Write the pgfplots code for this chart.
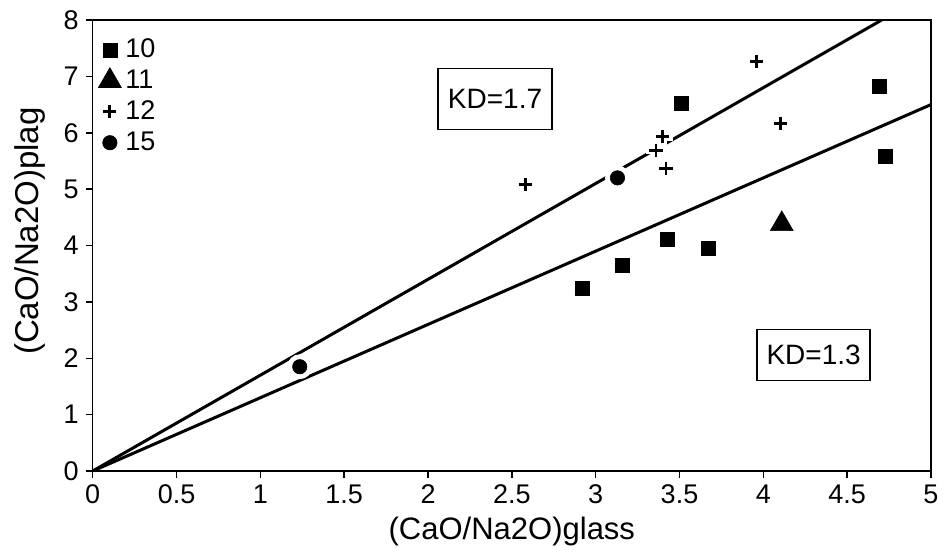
\documentclass[border=0pt]{standalone}
\usepackage{pgfplots}
\pgfplotsset{compat=1.18}
\usepackage{fontspec}
\setmainfont{Liberation Sans}

% CaO/Na2O ratios, plagioclase vs. glass, per sample group
\pgfplotstableread{
x y
2.92 3.24
3.16 3.65
3.43 4.11
3.67 3.95
3.51 6.52
4.69 6.82
4.73 5.58
}\groupten
\pgfplotstableread{
x y
4.11 4.38
}\groupeleven
\pgfplotstableread{
x y
2.58 5.08
3.36 5.69
3.40 5.93
3.42 5.36
3.96 7.27
4.10 6.16
}\grouptwelve
\pgfplotstableread{
x y
1.235 1.85
3.13 5.20
}\groupfifteen

\begin{document}
\begin{tikzpicture}
\begin{axis}[
  scale only axis,
  width=419.15pt, height=225.5pt,
  xmin=0, xmax=5, ymin=0, ymax=8,
  xtick={0,0.5,...,5}, ytick={0,1,...,8},
  tick align=outside, tick pos=left,
  major tick length=3.5pt,
  axis line style={line width=0.75pt},
  every tick/.style={black, line width=0.75pt},
  /pgf/number format/assume math mode=true,
  tick label style={font=\fontsize{13.5}{15}\selectfont},
  xlabel={(CaO/Na2O)glass},
  ylabel={(CaO/Na2O)plag},
  xlabel style={font=\fontsize{15.5}{17}\selectfont, at={(axis description cs:0.5,-0.135)}, anchor=center},
  ylabel style={font=\fontsize{16.5}{18}\selectfont, at={(axis description cs:-0.0748,0.532)}, anchor=center},
  legend style={draw=none, fill=none, at={(axis description cs:0.004,0.972)}, anchor=north west,
    font=\fontsize{13.5}{15}\selectfont, row sep=0.6pt, inner sep=1pt},
  legend cell align=left,
  legend image code/.code={\draw[#1] plot coordinates {(5pt,0pt)};},
  /tikz/every even column/.append style={column sep=1pt},
]
% partition-coefficient reference lines
\addplot[black, line width=1.5pt, forget plot] coordinates {(0,0) (4.70588,8)};
\addplot[black, line width=1.5pt, forget plot] coordinates {(0,0) (5,6.5)};
% white halos that break the lines around the symbols
\addplot[only marks, mark=*, mark size=6pt, white, forget plot] table {\groupfifteen};
\addplot[only marks, mark=+, mark size=5pt, white, line width=4pt, forget plot] table {\grouptwelve};
% data
\addplot[only marks, mark=square*, mark size=3.5pt, black, mark options={line width=0.3pt}] table {\groupten};
\addlegendentry{10}
\addplot[only marks, mark=triangle*, mark size=6.6pt, black, mark options={line width=0.3pt}] table {\groupeleven};
\addlegendentry{11}
\addplot[only marks, mark=+, mark size=3.3pt, black, line width=1.4pt] table {\grouptwelve};
\addlegendentry{12}
\addplot[only marks, mark=*, mark size=3.6pt, black, mark options={line width=0.3pt}] table {\groupfifteen};
\addlegendentry{15}
% KD annotations
\node[draw, line width=0.75pt, fill=white, minimum width=57pt, minimum height=30.5pt, inner sep=0pt,
  font=\fontsize{14}{16}\selectfont] at (axis cs:2.40,6.60) {KD=1.7};
\node[draw, line width=0.75pt, fill=white, minimum width=56.5pt, minimum height=25.5pt, inner sep=0pt,
  font=\fontsize{14}{16}\selectfont] at (axis cs:4.30,2.06) {KD=1.3};
\end{axis}
\pgfresetboundingbox
\path[use as bounding box] (-46.35pt,-41pt) rectangle (426.65pt,235.5pt);
\end{tikzpicture}
\end{document}
